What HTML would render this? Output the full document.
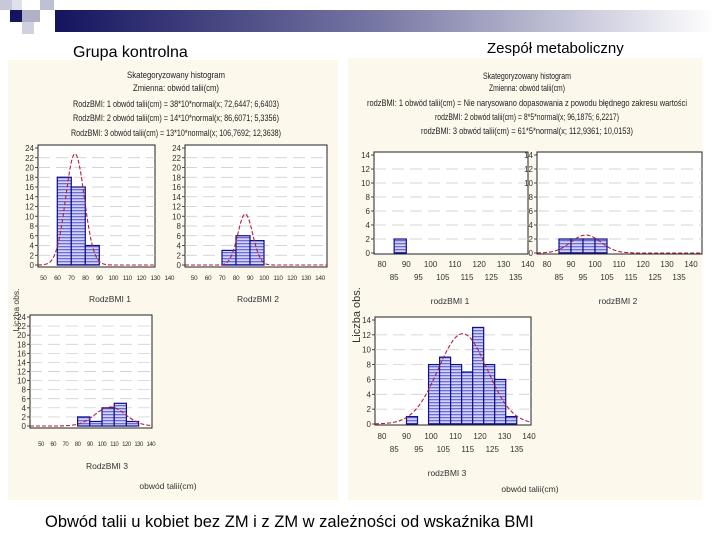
<!DOCTYPE html>
<html><head><meta charset="utf-8">
<style>
html,body{margin:0;padding:0;background:#fff;}
svg{display:block;font-family:"Liberation Sans",sans-serif;}
.sm{font-size:8.5px;fill:#333;}
.hd{font-size:9px;fill:#222;}
</style></head>
<body>
<svg id="root" width="720" height="540" viewBox="0 0 720 540" xmlns="http://www.w3.org/2000/svg">
<defs>
<linearGradient id="barg" x1="0" x2="1" y1="0" y2="0">
<stop offset="0" stop-color="#14145f"/><stop offset="0.5" stop-color="#7a7aa6"/><stop offset="1" stop-color="#ffffff"/>
</linearGradient>
<pattern id="stripe" width="4" height="3" patternUnits="userSpaceOnUse">
<rect width="4" height="3" fill="#d4d4f6"/><rect width="4" height="1.3" fill="#6d6dd6"/>
</pattern>
</defs>
<g>
<rect x="0" y="0" width="12" height="10" fill="#c8c8d8"/>
<rect x="12" y="0" width="10" height="10" fill="#e0e0ea"/>
<rect x="10" y="10" width="12" height="12" fill="#14145f"/>
<rect x="22" y="10" width="18" height="12" fill="#b0b0c8"/>
<rect x="22" y="22" width="12" height="12" fill="#d0d0de"/>
<rect x="40" y="0" width="14" height="10" fill="#c0c0d4"/>
<rect x="55" y="10" width="660" height="22" fill="url(#barg)"/>
</g>
<rect x="8" y="60" width="330" height="440" fill="#fdf8ec"/>
<rect x="348" y="58" width="354" height="442" fill="#fdf8ec"/>
<text x="73" y="57" font-size="16" fill="#000">Grupa kontrolna</text>
<text x="487" y="53" font-size="15" fill="#000">Zespół metaboliczny</text>
<text x="45" y="527" font-size="16.5" fill="#000">Obwód talii u kobiet bez ZM i z ZM  w zależności od wskaźnika BMI</text>
<g class="hd" text-anchor="middle">
<text x="176" y="78" textLength="98" lengthAdjust="spacingAndGlyphs">Skategoryzowany histogram</text>
<text x="176" y="91" textLength="86" lengthAdjust="spacingAndGlyphs">Zmienna:  obwód talii(cm)</text>
<text x="176" y="107" textLength="206" lengthAdjust="spacingAndGlyphs">RodzBMI: 1 obwód talii(cm) = 38*10*normal(x; 72,6447; 6,6403)</text>
<text x="176" y="121" textLength="206" lengthAdjust="spacingAndGlyphs">RodzBMI: 2 obwód talii(cm) = 14*10*normal(x; 86,6071; 5,3356)</text>
<text x="176" y="136" textLength="210" lengthAdjust="spacingAndGlyphs">RodzBMI: 3 obwód talii(cm) = 13*10*normal(x; 106,7692; 12,3638)</text>
</g>
<g class="hd" text-anchor="middle">
<text x="527" y="79" textLength="88" lengthAdjust="spacingAndGlyphs">Skategoryzowany histogram</text>
<text x="527" y="91" textLength="76" lengthAdjust="spacingAndGlyphs">Zmienna:  obwód talii(cm)</text>
<text x="527" y="106" textLength="320" lengthAdjust="spacingAndGlyphs">rodzBMI: 1 obwód talii(cm) = Nie narysowano dopasowania z powodu błędnego zakresu wartości</text>
<text x="527" y="120" textLength="184" lengthAdjust="spacingAndGlyphs">rodzBMI: 2 obwód talii(cm) = 8*5*normal(x; 96,1875; 6,2217)</text>
<text x="527" y="134" textLength="212" lengthAdjust="spacingAndGlyphs">rodzBMI: 3 obwód talii(cm) = 61*5*normal(x; 112,9361; 10,0153)</text>
</g>
<g class="sm">
<text x="0" y="0" transform="translate(19,310) rotate(-90)" text-anchor="middle">Liczba obs.</text>
<text x="0" y="0" transform="translate(360,315) rotate(-90)" text-anchor="middle" font-size="11">Liczba obs.</text>
<text x="110" y="302" text-anchor="middle">RodzBMI 1</text>
<text x="258" y="302" text-anchor="middle">RodzBMI 2</text>
<text x="107" y="469" text-anchor="middle">RodzBMI 3</text>
<text x="168" y="489" text-anchor="middle">obwód talii(cm)</text>
<text x="450" y="304" text-anchor="middle">rodzBMI 1</text>
<text x="618" y="304" text-anchor="middle">rodzBMI 2</text>
<text x="447" y="476" text-anchor="middle">rodzBMI 3</text>
<text x="530" y="492" text-anchor="middle">obwód talii(cm)</text>
</g>
</svg>
<script>
// ---- data ----
const l1Bins=[60,70,80]; const l1Counts=[18,16,4]; const l1Fit=[38,10,72.6447,6.6403];
const l2Bins=[70,80,90]; const l2Counts=[3,6,5]; const l2Fit=[14,10,86.6071,5.3356];
const l3Bins=[80,90,100,110,120]; const l3Counts=[2,1,4,5,1]; const l3Fit=[13,10,106.7692,12.3638];
const r1Bins=[85]; const r1Counts=[2]; const r1Fit=null;
const r2Bins=[85,90,95,100]; const r2Counts=[2,2,2,2]; const r2Fit=[8,5,96.1875,6.2217];
const r3Bins=[90,99,103.5,108,112.5,117,121.5,126,130.5]; const r3Counts=[1,8,9,8,7,13,8,6,1]; const r3Fit=[61,5,112.9361,10.0153];
const leftYTicks=[0,2,4,6,8,10,12,14,16,18,20,22,24];
const rightYTicks=[0,2,4,6,8,10,12,14];
const leftXTicks=[50,60,70,80,90,100,110,120,130,140];
const rightXTicksA=[80,90,100,110,120,130,140];
const rightXTicksB=[85,95,105,115,125,135];

const NS="http://www.w3.org/2000/svg";
const root=document.getElementById('root');
function mk(tag,attrs,parent){const e=document.createElementNS(NS,tag);for(const k in attrs)e.setAttribute(k,attrs[k]);(parent||root).appendChild(e);return e;}

function chart(name,box,xs,ys,ymax,bins,counts,binW,fit,yTicks,xRows){
  const g=mk('g',{});
  
  
  const X=v=>xs.a+xs.k*(v-xs.v0);
  const Y=v=>ys.b-(ys.b-ys.t)*v/ymax;
  mk('rect',{x:box[0],y:box[1],width:box[2]-box[0],height:box[3]-box[1],fill:'#fff',stroke:'#222','stroke-width':1},g);
  yTicks.forEach(t=>{
    if(t>0&&t<ymax){const gl=mk('line',{x1:box[0],x2:box[2],y1:Y(t),y2:Y(t),stroke:'#c8c8c8','stroke-width':0.7,'stroke-dasharray':'12 6'},g);
      
      }
    mk('line',{x1:box[0]-3,x2:box[0],y1:Y(t),y2:Y(t),stroke:'#222','stroke-width':0.8},g);
    const tx=mk('text',{x:box[0]-4,y:Y(t)+3,'text-anchor':'end','font-size':'8','fill':'#333'},g);
    tx.textContent=t;
    
    
  });
  xRows.forEach(r=>{r.ticks.forEach(t=>{
    const tx=mk('text',{x:X(t),y:r.y,'text-anchor':'middle','font-size':r.fs||8,'letter-spacing':r.ls||0,'fill':'#333'},g);
    tx.textContent=t;
    
    
  });});
  bins.forEach((b,i)=>{
    const x0=X(b),x1=X(b+binW),y=Y(counts[i]);
    const r=mk('rect',{x:x0,y:y,width:x1-x0,height:ys.b-y,fill:'url(#stripe)',stroke:'#10108a','stroke-width':1.2},g);
    
    
  });
  if(fit){
    const [n,w,m,s]=fit;let d='';
    const vl=xs.v0+(box[0]-xs.a)/xs.k, vr=xs.v0+(box[2]-xs.a)/xs.k;
    for(let i=0;i<=120;i++){const v=vl+(vr-vl)*i/120;
      const f=n*w*Math.exp(-0.5*((v-m)/s)**2)/(s*Math.sqrt(2*Math.PI));
      d+=(i?'L':'M')+X(v).toFixed(1)+','+Y(Math.min(f,ymax)).toFixed(1);}
    const p=mk('path',{d:d,fill:'none',stroke:'#b0203a','stroke-width':1.1,'stroke-dasharray':'4 2'},g);
    
    
  }
}
chart('left-histogram-bmi1',[38,145,155,267],{a:57.3,k:1.4,v0:60},{t:148,b:265},24,l1Bins,l1Counts,10,l1Fit,leftYTicks,[{y:280,ticks:leftXTicks,fs:6.5,ls:-0.4}]);
chart('left-histogram-bmi2',[185,145,327,267],{a:222,k:1.4,v0:70},{t:148,b:265},24,l2Bins,l2Counts,10,l2Fit,leftYTicks,[{y:280,ticks:leftXTicks,fs:6.5,ls:-0.4}]);
chart('left-histogram-bmi3',[30,315,152,428],{a:41,k:1.22,v0:50},{t:317,b:426},24,l3Bins,l3Counts,10,l3Fit,leftYTicks,[{y:446,ticks:leftXTicks,fs:6,ls:-0.5}]);
chart('right-histogram-bmi1',[374,152,528,254],{a:382,k:2.43,v0:80},{t:155,b:253},14,r1Bins,r1Counts,5,r1Fit,rightYTicks,[{y:267,ticks:rightXTicksA},{y:280,ticks:rightXTicksB}]);
chart('right-histogram-bmi2',[537,152,702,254],{a:547,k:2.4,v0:80},{t:155,b:253},14,r2Bins,r2Counts,5,r2Fit,rightYTicks,[{y:267,ticks:rightXTicksA},{y:280,ticks:rightXTicksB}]);
chart('right-histogram-bmi3',[375,317,531,425],{a:382,k:2.45,v0:80},{t:320,b:424},14,r3Bins,r3Counts,4.5,r3Fit,rightYTicks,[{y:439,ticks:rightXTicksA},{y:452,ticks:rightXTicksB}]);
</script>
</body></html>
